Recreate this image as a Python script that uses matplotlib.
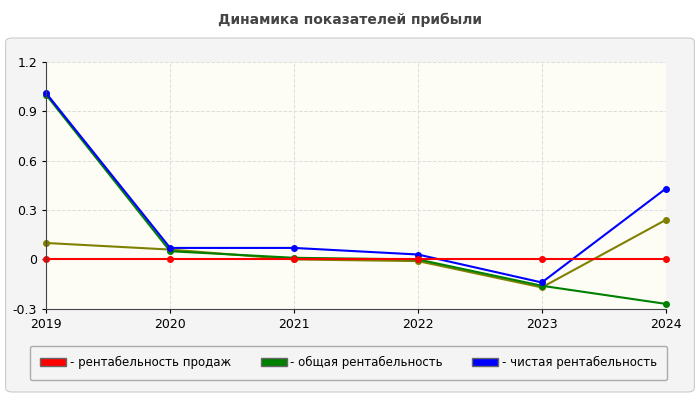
import matplotlib.pyplot as plt
from matplotlib.patches import FancyBboxPatch, Patch

years = [2019, 2020, 2021, 2022, 2023, 2024]
sales_rent = [0, 0, 0, 0, 0, 0]
total_rent = [1.0, 0.05, 0.01, 0.0, -0.16, -0.27]
net_rent = [1.01, 0.07, 0.07, 0.03, -0.14, 0.43]
extra_rent = [0.10, 0.06, 0.0, -0.01, -0.17, 0.24]
yticks = [-0.3, 0, 0.3, 0.6, 0.9, 1.2]
ytick_labels = ['-0.3', '0', '0.3', '0.6', '0.9', '1.2']

fig = plt.figure(figsize=(7, 4), dpi=100)
fig.patch.set_facecolor('white')
panel = FancyBboxPatch((0.008, 0.02), 0.984, 0.885, boxstyle='round,pad=0,rounding_size=0.01',
                       transform=fig.transFigure, facecolor='#f4f4f4', edgecolor='#cccccc',
                       lw=0.8, zorder=-10)
fig.patches.append(panel)
fig.text(0.5, 0.95, 'Динамика показателей прибыли', ha='center', va='center',
         fontsize=10, fontweight='bold', color='#444444')

ax = fig.add_axes([0.066, 0.228, 0.885, 0.617])
ax.set_facecolor('#fdfdf6')
ax.set_xlim(2019, 2024)
ax.set_ylim(-0.3, 1.2)
ax.set_xticks(years)
ax.set_yticks(yticks)
ax.set_yticklabels(ytick_labels)
ax.tick_params(labelsize=9, length=3)
ax.grid(True, linestyle='--', color='#dddddd', lw=0.7)
for s in ['top', 'right']:
    ax.spines[s].set_visible(False)
for s in ['left', 'bottom']:
    ax.spines[s].set_color('#444444')

ax.plot(years, extra_rent, color='#808000', marker='o', ms=4, lw=1.5, clip_on=False)
ax.plot(years, total_rent, color='green', marker='o', ms=4, lw=1.5, clip_on=False)
ax.plot(years, net_rent, color='blue', marker='o', ms=4, lw=1.5, clip_on=False)
ax.plot(years, sales_rent, color='red', marker='o', ms=4, lw=1.5, clip_on=False)

handles = [Patch(facecolor=c, edgecolor='#666666') for c in ['red', 'green', 'blue']]
labels = ['- рентабельность продаж', '- общая рентабельность', '- чистая рентабельность']
leg = fig.legend(handles, labels, loc='center', bbox_to_anchor=(0.498, 0.093), ncol=3,
                 fontsize=8.5, frameon=True, handlelength=2.2, handleheight=0.7,
                 handletextpad=0.3, columnspacing=2.5, borderpad=0.9, fancybox=True)
leg.get_frame().set_edgecolor('#999999')
leg.get_frame().set_facecolor('#f4f4f4')

fig.savefig('out.png', dpi=100)
